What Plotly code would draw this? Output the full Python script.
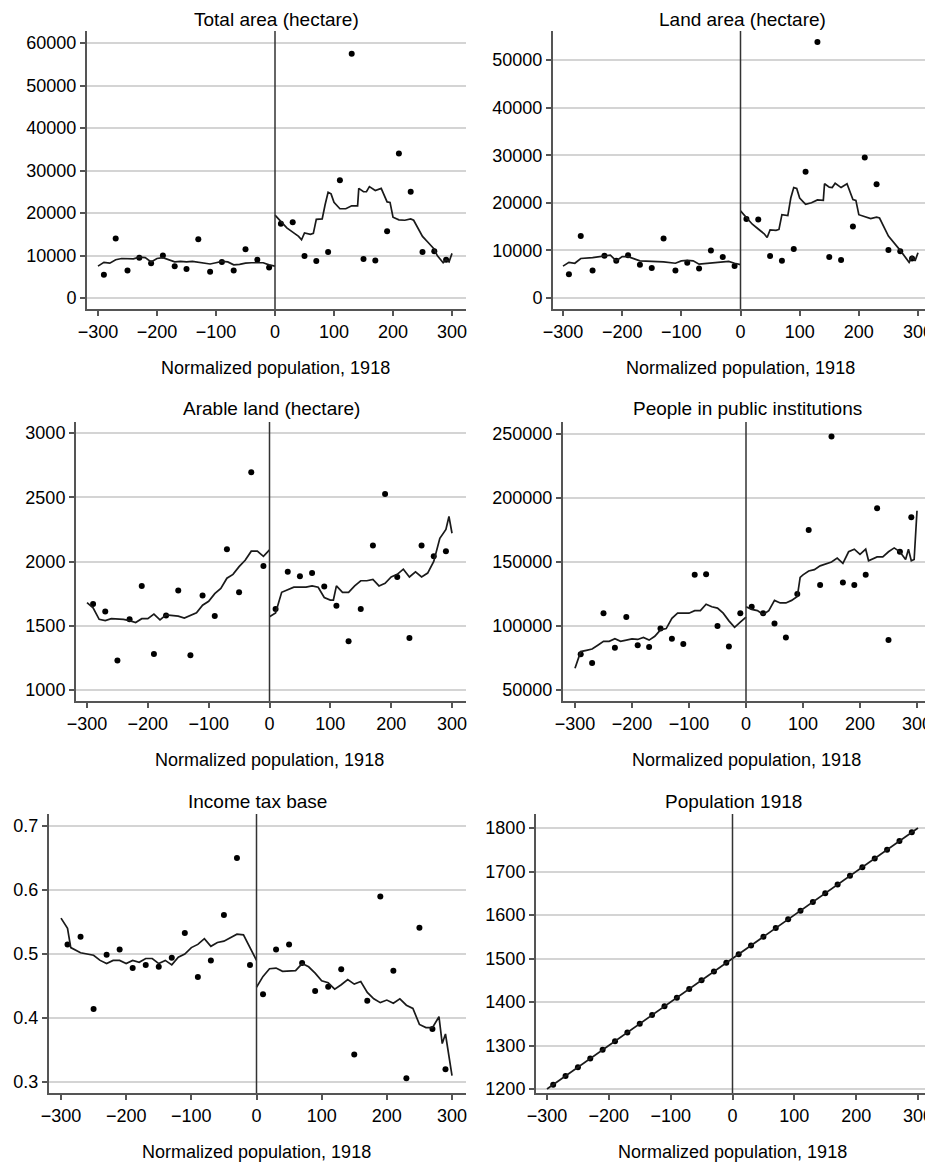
import plotly.graph_objects as go

# bin centres shared by all scatter series
bins = [-290, -270, -250, -230, -210, -190, -170, -150, -130, -110, -90, -70, -50, -30, -10,
        10, 30, 50, 70, 90, 110, 130, 150, 170, 190, 210, 230, 250, 270, 290]

# Total area (hectare)
total_pts = [5500, 14000, 6500, 9500, 8200, 10000, 7500, 6800, 13800, 6200, 8500, 6500, 11500, 9000, 7200,
             17500, 17800, 9900, 8700, 10800, 27700, 57500, 9200, 8800, 15700, 34000, 25000, 10800, 11000, 9000]
total_lx = [-300, -290, -280, -270, -260, -250, -240, -230, -220, -210, -200, -190, -180, -170, -160, -150,
            -140, -130, -120, -110, -100, -90, -80, -70, -60, -50, -40, -30, -20, -10, 0]
total_ly = [7500, 8400, 8200, 9000, 9300, 9300, 9200, 9600, 9500, 8500, 9300, 9500, 9000, 8500, 8600, 8500,
            8600, 8400, 8200, 8000, 8300, 8600, 8500, 7800, 7900, 8200, 8300, 8300, 8300, 7800, 7500]
total_rx = [0, 10, 20, 30, 40, 45, 50, 60, 65, 70, 80, 85, 90, 95, 100, 110, 120, 130, 140, 142, 150, 155,
            160, 170, 180, 190, 195, 200, 210, 220, 230, 235, 250, 260, 270, 275, 285, 290, 295, 300]
total_ry = [19500, 18000, 16500, 15500, 14500, 13700, 15300, 15000, 15200, 18500, 18600, 22000, 24900, 24500,
            22500, 21000, 21000, 21700, 21700, 25800, 25000, 25000, 26200, 25300, 25800, 22600, 22500, 19000,
            18400, 18300, 18600, 18300, 14500, 13000, 11500, 10000, 8300, 9000, 8500, 10500]

# Land area (hectare)
land_pts = [5000, 13000, 5800, 8900, 7800, 9000, 7000, 6300, 12500, 5800, 7400, 6200, 10000, 8600, 6700,
            16600, 16500, 8800, 7800, 10300, 26500, 53800, 8600, 8000, 15000, 29500, 23900, 10100, 9800, 8300]
land_lx = [-300, -290, -280, -270, -250, -230, -220, -210, -200, -190, -180, -170, -150, -130, -110, -100,
           -90, -80, -70, -60, -40, -20, -10, 0]
land_ly = [6700, 7500, 7300, 8300, 8500, 8800, 9000, 7800, 8700, 8700, 8200, 7800, 7700, 7600, 7300, 7800,
           7900, 7800, 7100, 7200, 7500, 7700, 7300, 7000]
land_rx = [0, 20, 30, 40, 45, 50, 60, 65, 70, 80, 85, 90, 95, 100, 110, 120, 130, 140, 142, 150, 155, 160,
           170, 180, 190, 195, 200, 220, 230, 235, 250, 270, 285, 290, 295, 300]
land_ry = [18300, 15500, 14500, 13500, 12700, 14300, 14200, 14400, 17500, 17300, 21000, 23200, 23000, 21000,
           19700, 20000, 20600, 20500, 24000, 23300, 23200, 24100, 23200, 24000, 20700, 20500, 17500, 16700,
           17000, 16800, 13000, 10000, 7500, 8700, 7800, 9500]

# Arable land (hectare)
arable_pts = [1670, 1610, 1230, 1550, 1810, 1280, 1580, 1775, 1270, 1735, 1575, 2095, 1760, 2695, 1965,
              1630, 1920, 1885, 1910, 1805, 1655, 1380, 1630, 2125, 2525, 1880, 1405, 2125, 2040, 2080]
arable_lx = total_lx
arable_ly = [1680, 1640, 1550, 1540, 1555, 1555, 1550, 1540, 1525, 1555, 1555, 1590, 1545, 1585, 1580, 1575,
             1560, 1580, 1600, 1660, 1690, 1750, 1790, 1870, 1900, 1960, 2010, 2080, 2080, 2040, 2090]
arable_rx = [0, 10, 20, 30, 40, 60, 70, 80, 90, 100, 105, 110, 120, 130, 140, 150, 160, 170, 180, 190, 200,
             210, 220, 230, 240, 250, 260, 270, 280, 290, 295, 300]
arable_ry = [1570, 1600, 1760, 1780, 1800, 1800, 1810, 1800, 1720, 1700, 1700, 1810, 1760, 1760, 1810, 1850,
             1850, 1860, 1810, 1830, 1880, 1900, 1940, 1880, 1920, 1880, 1910, 2000, 2180, 2250, 2350, 2220]

# People in public institutions
people_pts = [78000, 71000, 110000, 83000, 107000, 85000, 83500, 98000, 90000, 86000, 140000, 140500, 100000,
              84000, 110000, 115000, 110000, 102000, 91000, 125000, 175000, 132000, 248000, 134000, 132000,
              140000, 192000, 89000, 158000, 185000]
people_lx = [-300, -290, -280, -270, -260, -250, -240, -230, -220, -200, -190, -180, -170, -160, -150, -140,
             -130, -120, -110, -100, -90, -80, -70, -60, -50, -40, -30, -20, -10, 0]
people_ly = [67000, 80000, 81000, 82000, 85000, 88000, 88000, 90000, 88000, 90000, 89500, 91000, 89000, 92000,
             97000, 98000, 106000, 110000, 110000, 110000, 112000, 112000, 117000, 115000, 114000, 110000,
             104000, 99000, 103000, 107000]
people_rx = [0, 10, 20, 30, 40, 50, 60, 70, 80, 90, 95, 100, 110, 120, 130, 150, 160, 170, 180, 190, 200,
             210, 215, 230, 240, 250, 260, 270, 280, 285, 290, 295, 300]
people_ry = [115000, 113000, 112000, 109000, 112000, 120000, 118000, 118000, 120000, 123000, 138000, 140000,
             143000, 144000, 147000, 150000, 153000, 149000, 158000, 160000, 156000, 160000, 151000, 154000,
             154000, 158000, 161000, 158000, 152000, 160000, 151000, 152000, 190000]

# Income tax base
tax_pts = [0.515, 0.527, 0.414, 0.499, 0.507, 0.478, 0.483, 0.48, 0.494, 0.533, 0.464, 0.49, 0.561, 0.65,
           0.483, 0.437, 0.507, 0.515, 0.486, 0.442, 0.449, 0.476, 0.343, 0.427, 0.59, 0.474, 0.306, 0.541,
           0.383, 0.32]
tax_lx = [-300, -290, -285, -270, -250, -240, -230, -220, -210, -200, -190, -180, -170, -160, -150, -140,
          -130, -120, -110, -100, -90, -80, -70, -60, -50, -40, -30, -20, -10, 0]
tax_ly = [0.556, 0.54, 0.51, 0.502, 0.498, 0.49, 0.485, 0.49, 0.49, 0.485, 0.49, 0.487, 0.493, 0.493, 0.485,
          0.49, 0.483, 0.495, 0.5, 0.51, 0.515, 0.524, 0.512, 0.518, 0.52, 0.525, 0.531, 0.53, 0.51, 0.49]
tax_rx = [0, 10, 20, 30, 40, 60, 70, 80, 90, 100, 110, 120, 130, 140, 150, 160, 170, 180, 190, 200, 210, 220,
          230, 240, 250, 260, 270, 280, 285, 290, 300]
tax_ry = [0.448, 0.465, 0.477, 0.478, 0.473, 0.474, 0.485, 0.48, 0.47, 0.458, 0.455, 0.445, 0.452, 0.46,
          0.453, 0.457, 0.44, 0.43, 0.424, 0.428, 0.423, 0.43, 0.42, 0.415, 0.39, 0.385, 0.385, 0.402, 0.36,
          0.375, 0.31]

# Population 1918
pop_pts = [1210, 1230, 1250, 1270, 1290, 1310, 1330, 1350, 1370, 1390, 1410, 1430, 1450, 1470, 1490,
           1510, 1530, 1550, 1570, 1590, 1610, 1630, 1650, 1670, 1690, 1710, 1730, 1750, 1770, 1790]
pop_lx = [-300, 0]
pop_ly = [1200, 1500]
pop_rx = [0, 300]
pop_ry = [1500, 1800]

titles = ["Total area (hectare)", "Land area (hectare)", "Arable land (hectare)",
          "People in public institutions", "Income tax base", "Population 1918"]
series = [
    (total_pts, total_lx, total_ly, total_rx, total_ry),
    (land_pts, land_lx, land_ly, land_rx, land_ry),
    (arable_pts, arable_lx, arable_ly, arable_rx, arable_ry),
    (people_pts, people_lx, people_ly, people_rx, people_ry),
    (tax_pts, tax_lx, tax_ly, tax_rx, tax_ry),
    (pop_pts, pop_lx, pop_ly, pop_rx, pop_ry),
]
yticks = [
    [0, 10000, 20000, 30000, 40000, 50000, 60000],
    [0, 10000, 20000, 30000, 40000, 50000],
    [1000, 1500, 2000, 2500, 3000],
    [50000, 100000, 150000, 200000, 250000],
    [0.3, 0.4, 0.5, 0.6, 0.7],
    [1200, 1300, 1400, 1500, 1600, 1700, 1800],
]
yformat = ["d", "d", "d", "d", ".1f", "d"]

# pixel geometry: (axis left, plot right, px of x=-300, px of x=300, plot top, plot bottom,
#                  px of y-ref0, y-ref0, px of y-ref1, y-ref1)
geo = [
    (81, 460, 92, 446, 30, 308, 297, 0, 42, 60000),
    (547, 925, 557, 912, 30, 308, 297, 0, 59, 50000),
    (70, 460, 81, 446, 421, 700, 689, 1000, 432, 3000),
    (557, 925, 569, 911, 421, 700, 689, 50000, 433, 250000),
    (43, 460, 55, 446, 813, 1092, 1081, 0.3, 825, 0.7),
    (530, 925, 541, 912, 813, 1092, 1088, 1200, 827, 1800),
]

W, H = 933, 1163
OFFX, OFFY = 2, 7  # offset of the plot div inside the window
FONT = "Liberation Sans, Arial, sans-serif"
AX = "#555555"

fig = go.Figure()
annotations = []
shapes = []

for i, (pts, lx, ly, rx, ry) in enumerate(series):
    n = "" if i == 0 else str(i + 1)
    xa, ya = "x" + n, "y" + n
    left, right, p0, p1, top, bot, q0, v0, q1, v1 = geo[i]
    left, right, p0, p1 = left - OFFX, right - OFFX, p0 - OFFX, p1 - OFFX
    top, bot, q0, q1 = top - OFFY, bot - OFFY, q0 - OFFY, q1 - OFFY
    sx = 600 / (p1 - p0)
    xr = [-300 + (left - p0) * sx, 300 + (right - p1) * sx]
    sy = (v1 - v0) / (q1 - q0)
    yr = [v0 + (bot - q0) * sy, v0 + (top - q0) * sy]

    fig.add_trace(go.Scatter(x=bins, y=pts, mode="markers", xaxis=xa, yaxis=ya,
                             marker=dict(color="black", size=6), showlegend=False))
    for xs, ys in ((lx, ly), (rx, ry)):
        fig.add_trace(go.Scatter(x=xs, y=ys, mode="lines", xaxis=xa, yaxis=ya,
                                 line=dict(color="#1a1a1a", width=1.7), showlegend=False))

    axis_common = dict(showline=True, linecolor=AX, linewidth=2, ticks="outside", ticklen=5,
                       tickcolor=AX, tickwidth=1.5, zeroline=False, automargin=False,
                       tickfont=dict(family=FONT, size=18, color="black"))
    fig.layout["xaxis" + n] = dict(domain=[left / W, right / W], range=xr, anchor=ya,
                                   tickvals=[-300, -200, -100, 0, 100, 200, 300], tickformat="d",
                                   showgrid=False, **axis_common)
    fig.layout["yaxis" + n] = dict(domain=[1 - bot / H, 1 - top / H], range=yr, anchor=xa,
                                   tickvals=yticks[i], tickformat=yformat[i], showgrid=True,
                                   gridcolor="#d4d4d4", gridwidth=1.5, **axis_common)

    shapes.append(dict(type="line", xref=xa, yref=ya + " domain", x0=0, x1=0, y0=0, y1=1,
                       line=dict(color="#333333", width=1.5)))
    annotations.append(dict(text=titles[i], x=(left + right) / 2 / W, y=1 - max(top - 13, 11) / H,
                            xref="paper", yref="paper", xanchor="center", yanchor="middle",
                            showarrow=False, font=dict(family=FONT, size=19, color="black")))
    annotations.append(dict(text="Normalized population, 1918", x=(p0 + p1) / 2 / W,
                            y=1 - (bot + 59) / H, xref="paper", yref="paper", xanchor="center",
                            yanchor="middle", showarrow=False,
                            font=dict(family=FONT, size=18, color="black")))

fig.update_layout(width=W, height=H, margin=dict(l=0, r=0, t=0, b=0),
                  plot_bgcolor="white", paper_bgcolor="white",
                  annotations=annotations, shapes=shapes)

fig.write_html("out.html")
